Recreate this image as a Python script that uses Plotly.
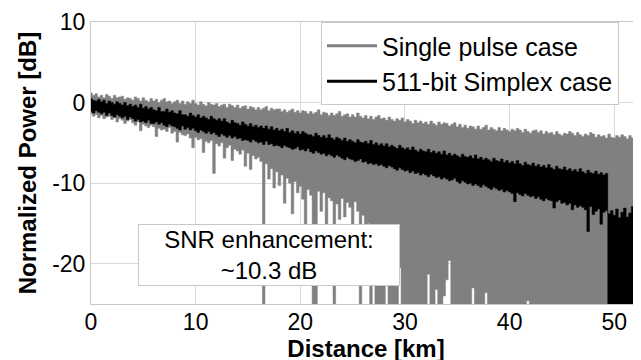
import plotly.graph_objects as go

# ---------------- data ----------------
# samples every 0.25 km from 0 to 52.5 km
DIST_START_KM = 0.0
DIST_STEP_KM = 0.25
N_SAMPLES = 211

# Single pulse case: local max / min of the trace at each sample [dB]
single_hi = [
    1.2, 0.9, 1.1, 0.7,   0.9, 0.6, 1.0, 0.8,   0.5, 0.9, 0.6, 0.7,   0.8, 0.4, 0.6, 0.5,
    0.3, 0.7, 0.5, 0.2,   0.6, 0.3, 0.1, 0.5,   0.2, 0.4, 0.0, 0.3,   0.5, 0.1, 0.2, -0.1,
    0.1, 0.3, -0.1, 0.2,  -0.2, 0.1, -0.1, 0.3,  -0.1, -0.3, 0.1, -0.2,  -0.4, 0.0, -0.2, -0.3,
    -0.1, -0.5, -0.3, -0.2,  -0.6, -0.2, -0.4, -0.6,  -0.3, -0.7, -0.5, -0.4,  -0.8, -0.5, -0.6, -0.9,
    -0.6, -0.9, -0.7, -0.5,  -1.0, -0.7, -0.9, -0.8,  -0.8, -1.1, -0.9, -1.2,  -1.0, -0.8, -1.2, -1.0,
    -1.3, -1.0, -1.1, -1.4,  -1.1, -1.4, -1.2, -0.9,  -1.5, -1.2, -1.3, -1.6,  -1.3, -1.6, -1.4, -1.1,
    -1.7, -1.5, -1.4, -1.8,  -1.5, -1.8, -1.3, -1.7,  -1.9, -1.6, -2.0, -1.7,  -2.1, -1.8, -1.6, -2.0,
    -1.9, -2.2, -1.8, -2.1,  -2.3, -2.0, -2.2, -1.9,  -2.4, -2.1, -2.3, -2.6,  -2.2, -2.5, -2.3, -2.6,
    -2.4, -2.7, -2.3, -2.6,  -2.8, -2.4, -2.7, -2.5,  -2.6, -2.9, -2.7, -2.5,  -3.0, -2.7, -3.1, -2.8,
    -3.2, -2.9, -3.0, -3.3,  -2.9, -3.3, -3.1, -2.8,  -3.4, -3.1, -3.3, -3.5,  -3.1, -3.5, -3.2, -3.4,
    -3.6, -3.3, -3.5, -3.2,  -3.4, -3.7, -3.3, -3.6,  -3.8, -3.5, -3.4, -3.7,  -3.5, -3.9, -3.6, -3.8,
    -3.7, -4.0, -3.6, -3.9,  -4.1, -3.8, -3.9, -3.6,  -3.8, -4.1, -3.7, -4.0,  -4.2, -3.9, -4.1, -3.7,
    -3.9, -4.3, -4.0, -4.2,  -4.1, -4.4, -3.9, -4.3,  -4.4, -4.1, -4.3, -4.0,  -4.2, -4.5, -4.1, -4.4,
    -4.3, -4.6, -4.4,
]
# -30 means the trace drops below the bottom of the axis there
single_lo = [
    -1.4, -1.7, -1.5, -1.9,  -1.6, -2.0, -1.8, -1.7,  -2.1, -1.9, -2.4, -2.0,  -2.2, -2.6, -2.3, -2.1,
    -2.5, -2.8, -2.4, -3.5,  -2.7, -2.9, -3.1, -2.8,  -3.0, -4.2, -3.2, -3.4,  -3.3, -3.6, -3.1, -3.8,
    -3.6, -4.9, -3.7, -4.0,  -4.1, -3.9, -4.4, -5.6,  -4.3, -4.6, -4.5, -6.2,  -4.8, -5.0, -4.7, -8.8,
    -5.1, -5.4, -5.0, -6.9,  -5.6, -5.3, -7.2, -5.8,  -6.0, -6.4, -5.9, -7.9,  -6.3, -8.3, -6.6, -7.0,
    -6.8, -7.3, -30, -7.6,  -9.5, -8.2, -10.6, -8.6,  -10.3, -9.0, -12.5, -9.4,  -10.0, -13.8, -9.8, -11.2,
    -10.4, -12.0, -16.5, -10.8,  -11.5, -30, -30, -11.0,  -13.5, -11.2, -15.8, -11.8,  -12.2, -30, -12.6, -14.5,
    -11.9, -14.2, -12.4, -13.0,  -15.2, -12.3, -13.5, -30,  -14.0, -16.5, -15.0, -30,  -17.0, -30, -30, -30,
    -30, -19.0, -30, -30,  -30, -30, -20.5, -30,  -30, -30, -30, -30,  -30, -30, -30, -30,
    -30, -21.3, -30, -30,  -23.2, -30, -30, -24.0,  -22.0, -19.6, -30, -30,  -30, -30, -30, -30,
    -30, -30, -23.0, -30,  -30, -30, -30, -23.6,  -30, -30, -30, -30,  -30, -30, -30, -30,
    -30, -30, -30, -30,  -30, -30, -30, -24.6,  -30, -30, -30, -30,  -30, -30, -30, -30,
    -30, -30, -30, -30,  -30, -30, -30, -30,  -30, -30, -30, -30,  -30, -30, -30, -30,
    -30, -30, -30, -30,  -30, -30, -30, -30,  -30, -30, -30, -30,  -30, -30, -30, -30,
    -30, -30, -30,
]

# 511-bit Simplex case: local max / min of the trace at each sample [dB]
simplex_hi = [
    0.5, 0.3, 0.2, 0.4,   0.1, 0.3, -0.1, 0.2,   0.0, -0.2, 0.1, -0.1,   -0.3, 0.0, -0.4, -0.2,
    -0.5, -0.3, -0.6, -0.2,  -0.7, -0.5, -0.8, -0.6,  -0.9, -1.0, -0.6, -1.1,  -1.1, -0.8, -1.2, -1.0,
    -1.3, -1.4, -1.0, -1.5,  -1.5, -1.7, -1.3, -1.6,  -1.8, -1.5, -1.9, -1.7,  -1.9, -2.1, -1.7, -2.0,
    -2.2, -2.0, -2.3, -2.0,  -2.4, -2.6, -2.2, -2.5,  -2.6, -2.8, -2.4, -2.7,  -2.9, -2.6, -3.0, -2.8,
    -3.1, -2.9, -3.2, -2.9,  -3.3, -3.0, -3.4, -3.2,  -3.5, -3.3, -3.6, -3.2,  -3.7, -3.5, -3.8, -3.6,
    -3.9, -3.6, -3.8, -4.0,  -4.0, -4.2, -3.8, -4.1,  -4.3, -4.1, -4.4, -4.0,  -4.4, -4.6, -4.3, -4.5,
    -4.7, -4.4, -4.8, -4.6,  -4.8, -5.0, -4.6, -4.9,  -5.0, -4.8, -5.1, -4.7,  -5.2, -5.0, -5.3, -5.1,
    -5.4, -5.1, -5.5, -5.3,  -5.5, -5.7, -5.3, -5.6,  -5.8, -5.6, -5.9, -5.5,  -5.9, -6.1, -5.8, -6.0,
    -6.1, -5.8, -6.2, -6.0,  -6.3, -6.1, -6.4, -6.0,  -6.5, -6.3, -6.6, -6.4,  -6.6, -6.8, -6.4, -6.7,
    -6.8, -6.6, -6.9, -6.5,  -7.0, -6.8, -7.1, -6.9,  -7.1, -7.3, -6.9, -7.2,  -7.3, -7.0, -7.4, -7.2,
    -7.5, -7.3, -7.6, -7.2,  -7.6, -7.8, -7.4, -7.7,  -7.8, -7.5, -7.9, -7.7,  -8.0, -7.8, -8.1, -7.7,
    -8.1, -8.3, -7.9, -8.2,  -8.3, -8.0, -8.4, -8.2,  -8.5, -8.3, -8.6, -8.2,  -8.6, -8.8, -8.4, -8.7,
    -8.8, -8.5, -8.9, -8.7,  -9.0, -8.8, -13.8, -13.4,  -14.0, -13.2, -14.3, -13.6,  -13.1, -14.2, -13.7, -12.9,
    -14.1, -13.5, -13.9,
]
simplex_lo = [
    -1.1, -1.3, -1.0, -1.2,  -1.4, -1.2, -1.6, -1.3,  -1.6, -1.8, -1.5, -1.7,  -1.9, -1.7, -2.1, -1.8,
    -2.0, -2.3, -2.1, -2.4,  -2.3, -2.5, -2.2, -2.6,  -2.6, -2.4, -2.7, -2.5,  -2.8, -3.0, -2.7, -2.9,
    -3.0, -3.2, -3.4, -2.9,  -3.3, -3.1, -3.4, -3.2,  -3.5, -3.7, -3.4, -3.6,  -3.8, -3.6, -3.9, -3.7,
    -4.0, -4.2, -3.9, -4.1,  -4.3, -4.1, -4.4, -4.2,  -4.5, -4.4, -4.7, -4.6,  -4.7, -4.9, -4.6, -4.8,
    -5.0, -4.9, -5.2, -4.8,  -5.2, -5.1, -5.4, -5.3,  -5.4, -5.6, -5.3, -5.5,  -5.6, -5.8, -5.7, -5.5,
    -5.9, -5.8, -6.0, -5.7,  -6.1, -6.3, -6.0, -6.2,  -6.4, -6.3, -6.6, -6.4,  -6.6, -6.8, -6.5, -6.7,
    -6.9, -7.1, -6.8, -7.0,  -7.1, -7.3, -7.2, -7.0,  -7.4, -7.3, -7.6, -7.5,  -7.7, -7.6, -7.8, -7.7,
    -7.9, -8.1, -7.8, -8.0,  -8.2, -8.4, -8.1, -8.3,  -8.5, -8.4, -8.7, -8.5,  -8.8, -8.7, -9.0, -8.8,
    -9.0, -9.2, -8.9, -9.1,  -9.3, -9.2, -9.5, -9.3,  -9.5, -9.7, -9.6, -9.4,  -9.8, -10.0, -9.7, -9.9,
    -10.1, -10.0, -10.3, -10.1,  -10.3, -10.5, -10.2, -10.4,  -10.6, -10.8, -10.5, -10.7,  -10.9, -10.8, -11.1, -10.9,
    -11.1, -11.3, -12.3, -11.2,  -11.4, -11.6, -11.3, -11.5,  -11.7, -11.6, -11.9, -11.7,  -12.0, -12.2, -11.9, -12.1,
    -12.2, -13.1, -12.3, -12.1,  -12.5, -12.4, -12.7, -12.5,  -13.3, -12.7, -13.0, -12.8,  -13.0, -13.3, -16.0, -12.9,
    -13.9, -13.5, -13.2, -15.1,  -13.6, -13.4, -30, -30,  -30, -30, -30, -30,  -30, -30, -30, -30,
    -30, -30, -30,
]

x_tick_values = [0, 10, 20, 30, 40, 50]
x_tick_labels = ["0", "10", "20", "30", "40", "50"]
y_tick_values = [-20, -10, 0, 10]
y_tick_labels = ["-20", "-10", "0", "10"]

series_names = ["Single pulse case", "511-bit Simplex case"]
series_colors = ["rgb(128,128,128)", "black"]
annotation_text = "SNR enhancement:<br>~10.3 dB"

for arr in (single_hi, single_lo, simplex_hi, simplex_lo):
    assert len(arr) == N_SAMPLES, len(arr)

distance = [round(DIST_START_KM + DIST_STEP_KM * i, 2) for i in range(N_SAMPLES)]


def envelope_polygon(xs, lo, hi, half):
    """Closed step outline: along the maxima, then back along the minima."""
    px, py = [], []
    for x, b in zip(xs, hi):
        px += [x - half, x + half]
        py += [b, b]
    for x, a in zip(reversed(xs), reversed(lo)):
        px += [x + half, x - half]
        py += [a, a]
    px.append(px[0])
    py.append(py[0])
    return px, py


FONT = "Liberation Sans, Arial, Helvetica, sans-serif"
GRID = "#d9d9d9"
FRAME = "#c8c8c8"
HALF = DIST_STEP_KM / 2

fig = go.Figure()
for (lo, hi), name, color in zip([(single_lo, single_hi), (simplex_lo, simplex_hi)],
                                 series_names, series_colors):
    px, py = envelope_polygon(distance, lo, hi, HALF)
    fig.add_trace(go.Scatter(x=px, y=py, mode="lines", fill="toself",
                             fillcolor=color, line=dict(color=color, width=0.5),
                             showlegend=False, hoverinfo="skip", legendgroup=name))
# legend entries (line samples) for the two traces
for name, color in zip(series_names, series_colors):
    fig.add_trace(go.Scatter(x=[None], y=[None], mode="lines", name=name,
                             line=dict(color=color, width=3), legendgroup=name))

fig.add_annotation(x=17.03, y=-18.95, xref="x", yref="y", text=annotation_text,
                   showarrow=False, xanchor="center", yanchor="middle",
                   width=258, height=58, borderpad=1, bgcolor="white",
                   bordercolor=FRAME, borderwidth=1, align="center",
                   font=dict(family=FONT, size=24, color="black"))

# the page adds an 8 px body margin, so the figure is laid out 8 px up/left
fig.update_layout(
    width=641, height=360,
    margin=dict(l=83, r=8, t=14, b=64, autoexpand=False),
    paper_bgcolor="white", plot_bgcolor="white",
    font=dict(family=FONT, color="black"),
    showlegend=True,
    legend=dict(x=0.96, y=1.0, xanchor="right", yanchor="top",
                bgcolor="white", bordercolor=FRAME, borderwidth=1,
                font=dict(family=FONT, size=25, color="black"),
                itemwidth=50, tracegroupgap=0),
    xaxis=dict(range=[0, 52.55], tickvals=x_tick_values, ticktext=x_tick_labels,
               automargin=False, ticklabelstandoff=-3,
               showgrid=True, gridcolor=GRID, gridwidth=1, zeroline=False,
               showline=True, linecolor=FRAME, linewidth=1, mirror=True, ticks="",
               tickfont=dict(family=FONT, size=23, color="black"),
               title=dict(text="Distance [km]", standoff=0,
                          font=dict(family=FONT, size=24, color="black", weight="bold"))),
    yaxis=dict(range=[-25, 10], tickvals=y_tick_values, ticktext=y_tick_labels,
               automargin=False,
               showgrid=True, gridcolor=GRID, gridwidth=1, zeroline=False,
               showline=True, linecolor=FRAME, linewidth=1, mirror=True, ticks="",
               tickfont=dict(family=FONT, size=23, color="black"),
               title=dict(text="Normalized Power [dB]", standoff=8,
                          font=dict(family=FONT, size=24, color="black", weight="bold"))),
)

fig.write_html("out.html")
